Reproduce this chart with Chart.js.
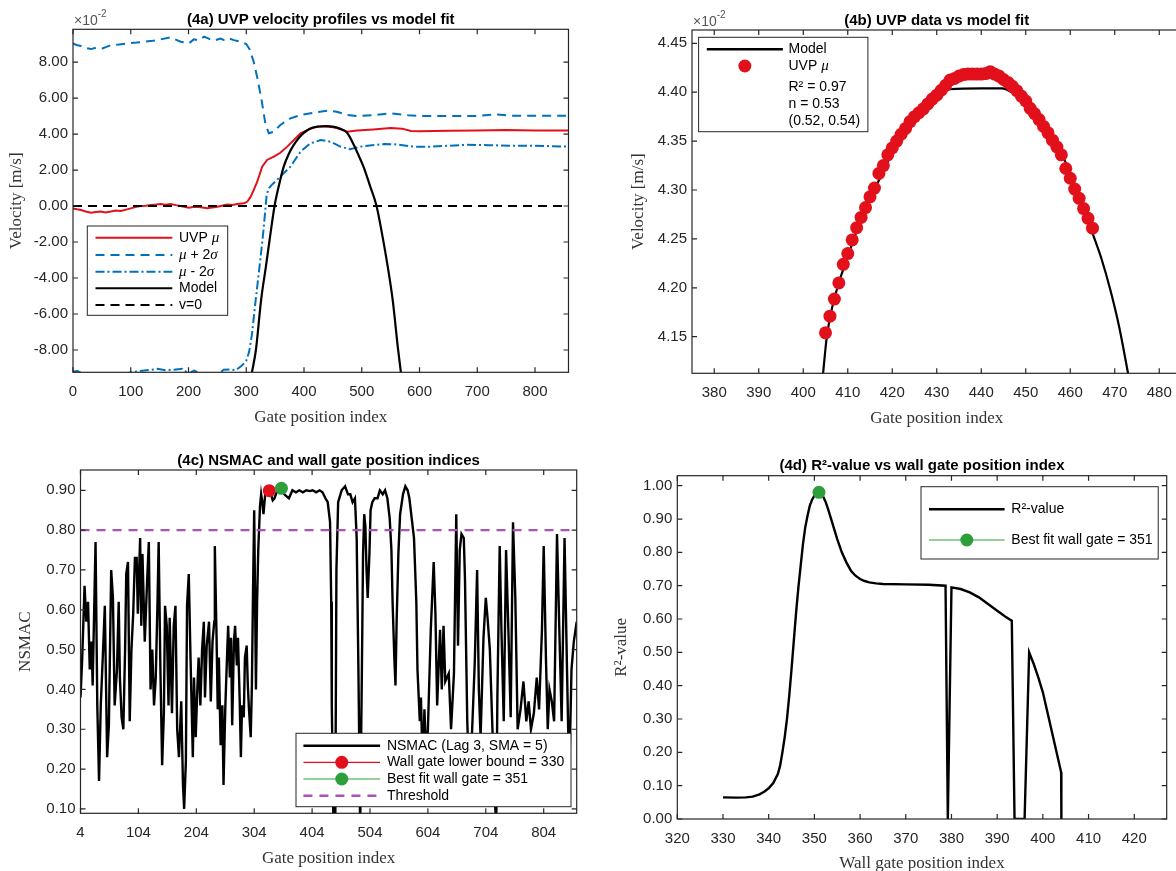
<!DOCTYPE html>
<html>
<head>
<meta charset="utf-8">
<script src="https://cdn.jsdelivr.net/npm/chart.js@4.4.1/dist/chart.umd.min.js"></script>
<style>
  body { margin: 0; background: #fff; width: 1176px; height: 871px; overflow: hidden; position: relative; }
  canvas { position: absolute; }
</style>
</head>
<body>
<canvas id="c4a" width="590" height="435" style="left:0;top:0"></canvas>
<canvas id="c4b" width="610" height="435" style="left:590px;top:0"></canvas>
<canvas id="c4c" width="590" height="440" style="left:0;top:435px"></canvas>
<canvas id="c4d" width="586" height="440" style="left:590px;top:435px"></canvas>
<script>
// ==================data=================

// (4a) velocity profiles, [gate, velocity x 1e-2 m/s]
const uvpMu = [[0,-0.13],[7,-0.18],[13.8,-0.22],[22,-0.3],[31,-0.37],[40,-0.33],[48,-0.31],[56,-0.36],[65.6,-0.31],[74,-0.25],[82.8,-0.28],[92,-0.2],[100,-0.13],[108,-0.06],[117,0],[126,0.02],[135,0.06],[144,0.08],[152,0.11],[160,0.07],[169,0.11],[178,0.05],[186.5,0],[194,-0.06],[201,-0.09],[208,-0.05],[215,-0.04],[224,-0.08],[232.5,-0.13],[241,-0.08],[250,-0.04],[258,0.02],[267,0.09],[276,0.06],[284.5,0.11],[296,0.15],[302,0.25],[307.7,0.52],[313,0.9],[319,1.35],[327.6,2.19],[336,2.56],[347.7,2.74],[359,2.96],[371,3.3],[382.5,3.67],[394,4.04],[408.6,4.26],[423,4.41],[440,4.43],[457,4.33],[474.5,4.13],[491.7,4.19],[520,4.25],[550,4.33],[570,4.3],[585,4.17],[600,4.16],[650,4.18],[700,4.2],[750,4.22],[800,4.2],[858,4.2]];
const muPlus2s = [[0,9.04],[6,8.95],[13.8,8.89],[22,8.78],[31,8.72],[40,8.8],[51,8.76],[58,8.84],[65.6,8.94],[80,8.98],[94.4,9.04],[110,9.08],[123,9.13],[138,9.18],[152,9.26],[169,9.37],[178,9.25],[186.5,9.13],[201,9.04],[209,9.26],[218,9.2],[227,9.41],[235,9.3],[244,9.19],[255.6,9.31],[262,9.22],[270,9.31],[278.6,9.22],[290,9.13],[300,9.0],[306,8.7],[313,8.0],[320,7.0],[327,5.8],[333,4.6],[339,4.04],[347.7,4.13],[359,4.5],[376.5,4.87],[394,5.06],[417,5.19],[440,5.3],[457,5.24],[474.5,5.06],[491.7,5.0],[520,5.05],[549.6,5.15],[580,5.05],[600,5.0],[650,5.0],[700,5.0],[730,5.09],[760,5.02],[800,5.02],[858,5.02]];
const muMinus2s = [[0,-9.2],[8,-9.17],[15,-9.3],[30,-9.4],[50,-9.42],[70,-9.38],[90,-9.3],[110,-9.2],[120,-9.15],[135,-9.1],[146,-9.05],[160,-9.12],[175,-9.1],[189,-9.05],[200,-9.3],[210,-9.15],[225,-9.35],[240,-9.4],[255,-9.25],[261,-9.1],[272,-9.08],[282,-9.12],[293,-8.85],[300,-8.6],[305,-8.1],[310,-7.1],[315,-5.6],[320,-4.2],[325,-2.8],[330,-1.3],[335,0.5],[338,0.95],[345,1.2],[359,1.63],[376.5,2.19],[394,3.02],[411,3.48],[429,3.67],[446,3.57],[463,3.3],[480,3.15],[497.5,3.3],[540,3.45],[560,3.42],[590,3.3],[620,3.3],[680,3.4],[720,3.38],[760,3.35],[800,3.35],[858,3.3]];
const modelA = [[309.5,-9.3],[316.7,-8.0],[325.8,-5.2],[334,-3.37],[342,-1.52],[349,0],[357,1.2],[365,2.2],[373,2.85],[382,3.38],[390,3.74],[398,4.02],[410,4.3],[425,4.42],[437,4.44],[450,4.41],[462,4.3],[474,4.1],[487,3.35],[495,2.78],[503,2.19],[514,1.15],[525.6,0],[535,-1.52],[545,-3.37],[553.5,-5.2],[563,-8.0],[568,-9.3]];
const zeroLine = [[0,0],[858,0]];
const xTicksA = [0,100,200,300,400,500,600,700,800];
const yTicksA = [-8,-6,-4,-2,0,2,4,6,8];

// (4b) zoom on the core, [gate, velocity x 1e-2 m/s]
const uvpB = [[405,4.154],[406,4.171],[407,4.1885],[408,4.205],[409,4.224],[410,4.235],[411,4.249],[412,4.2615],[413,4.272],[414,4.282],[415,4.293],[416,4.302],[417,4.317],[418,4.325],[419,4.336],[420,4.343],[421,4.35],[422,4.357],[423,4.363],[424,4.37],[425,4.375],[426,4.379],[427,4.383],[428,4.388],[429,4.393],[430,4.397],[431,4.402],[432,4.407],[433,4.4125],[434,4.414],[435,4.4165],[436,4.418],[437,4.4185],[438,4.4185],[439,4.4185],[440,4.4185],[441,4.419],[442,4.421],[443,4.4185],[444,4.4165],[445,4.413],[446,4.41],[447,4.406],[448,4.4015],[449,4.396],[450,4.391],[451,4.3835],[452,4.378],[453,4.372],[454,4.365],[455,4.3585],[456,4.351],[457,4.344],[458,4.336],[459,4.322],[460,4.312],[461,4.301],[462,4.2915],[463,4.281],[464,4.271],[465,4.261]];
const modelB = [[404.4,4.11],[405.3,4.15],[406.5,4.18],[408,4.205],[410,4.232],[413,4.27],[416,4.3],[420,4.338],[425,4.372],[427.8,4.389],[430.3,4.397],[433,4.403],[440,4.404],[444.7,4.404],[447.2,4.399],[449.7,4.392],[452,4.38],[455,4.365],[458,4.338],[460,4.317],[462,4.295],[465,4.256],[467,4.23],[469,4.198],[471,4.16],[473.1,4.11]];
const xTicksB = [380,390,400,410,420,430,440,450,460,470,480];
const yTicksB = [4.15,4.2,4.25,4.3,4.35,4.4,4.45];

// (4c) NSMAC, [gate, NSMAC]
const nsmac = [[4,0.38],[7,0.48],[11,0.66],[14,0.57],[17,0.62],[20,0.45],[23,0.52],[25,0.41],[30,0.77],[33,0.36],[36,0.17],[39,0.36],[43,0.5],[46,0.61],[50,0.23],[53,0.31],[57,0.7],[60,0.63],[63,0.36],[67,0.45],[70,0.62],[72,0.43],[75,0.33],[78,0.3],[81,0.5],[83,0.69],[86,0.72],[89,0.32],[92,0.5],[95,0.59],[98,0.73],[101,0.73],[103,0.59],[107,0.78],[109,0.56],[111,0.74],[115,0.52],[119,0.67],[122,0.77],[125,0.4],[128,0.5],[131,0.36],[134,0.43],[137,0.62],[139,0.77],[142,0.45],[145,0.21],[148,0.34],[150,0.61],[153,0.56],[156,0.36],[158,0.58],[162,0.34],[165,0.56],[168,0.61],[171,0.3],[174,0.23],[178,0.37],[181,0.16],[183,0.1],[186,0.22],[188,0.61],[191,0.69],[194,0.48],[198,0.23],[200,0.43],[203,0.28],[206,0.41],[208,0.48],[211,0.36],[214,0.5],[217,0.57],[219,0.38],[222,0.51],[226,0.57],[229,0.37],[232,0.52],[235,0.57],[236,0.76],[239,0.53],[241,0.35],[243,0.48],[246,0.26],[249,0.36],[251,0.16],[254,0.35],[257,0.48],[259,0.56],[262,0.43],[264,0.53],[266,0.31],[269,0.52],[271,0.56],[274,0.46],[276,0.53],[279,0.37],[281,0.23],[283,0.36],[286,0.33],[288,0.48],[291,0.51],[293,0.41],[295,0.35],[298,0.28],[300,0.41],[302,0.65],[304,0.85],[307,0.4],[309,0.62],[311,0.75],[314,0.86],[316,0.89],[318,0.87],[320,0.84],[323,0.89],[327,0.9],[330,0.895],[333,0.89],[336,0.875],[339,0.88],[344,0.9],[349,0.9],[351,0.905],[356,0.89],[360,0.885],[364,0.88],[370,0.9],[376,0.895],[382,0.9],[388,0.895],[394,0.9],[400,0.898],[405,0.9],[411,0.895],[417,0.9],[422,0.895],[427,0.88],[431,0.87],[435,0.82],[437,0.62],[438,0.36],[441,0.05],[444,0.05],[446,0.7],[449,0.87],[455,0.9],[461,0.91],[466,0.89],[470,0.89],[474,0.87],[478,0.88],[481,0.78],[484,0.45],[487,0.05],[490,0.45],[492,0.74],[494,0.84],[496,0.81],[498,0.7],[500,0.63],[503,0.74],[505,0.85],[508,0.87],[512,0.88],[517,0.88],[521,0.9],[526,0.89],[530,0.9],[534,0.88],[538,0.83],[541,0.75],[543,0.62],[546,0.48],[548,0.41],[550,0.57],[553,0.74],[556,0.84],[561,0.89],[565,0.91],[569,0.9],[572,0.88],[576,0.83],[580,0.78],[584,0.62],[586,0.45],[590,0.32],[592,0.38],[595,0.2],[598,0.35],[601,0.23],[604,0.3],[609,0.55],[614,0.72],[617,0.59],[620,0.36],[625,0.55],[628,0.4],[631,0.56],[634,0.42],[640,0.44],[644,0.3],[649,0.44],[653,0.84],[656,0.51],[659,0.75],[662,0.79],[666,0.78],[668,0.68],[672,0.32],[676,0.15],[681,0.32],[685,0.47],[689,0.7],[692,0.4],[695,0.28],[700,0.53],[704,0.63],[707,0.58],[711,0.5],[715,0.32],[719,0.15],[722,0.05],[724,0.38],[728,0.76],[731,0.55],[735,0.32],[739,0.75],[743,0.55],[747,0.33],[751,0.82],[755,0.63],[759,0.3],[764,0.35],[769,0.42],[774,0.32],[778,0.37],[782,0.3],[787,0.34],[792,0.43],[796,0.35],[801,0.55],[804,0.76],[808,0.47],[811,0.3],[814,0.4],[818,0.37],[822,0.32],[827,0.79],[831,0.55],[835,0.32],[840,0.78],[844,0.47],[848,0.17],[852,0.45],[856,0.52],[861,0.57]];
const wallLower = [[330,0.899]];
const bestFitC = [[351,0.905]];
const threshold = [[4,0.8],[861,0.8]];
const xTicksC = [4,104,204,304,404,504,604,704,804];
const yTicksC = [0.1,0.2,0.3,0.4,0.5,0.6,0.7,0.8,0.9];

// (4d) R2 vs wall gate, [gate, R2]
const r2 = [[330,0.065],[333,0.064],[335,0.065],[336.5,0.067],[338,0.074],[339,0.082],[340,0.092],[341,0.108],[342,0.135],[342.5,0.16],[343,0.2],[343.5,0.245],[344,0.3],[344.5,0.37],[345,0.45],[345.5,0.535],[346,0.62],[346.5,0.695],[347,0.76],[347.5,0.825],[348,0.875],[348.5,0.91],[349,0.94],[349.5,0.958],[350,0.97],[350.5,0.977],[351,0.98],[351.5,0.976],[352,0.965],[352.5,0.95],[353,0.93],[354,0.885],[355,0.84],[356,0.8],[357,0.77],[358,0.745],[359,0.73],[360,0.72],[361,0.714],[362,0.71],[363.5,0.707],[365,0.705],[370,0.704],[375,0.703],[378.7,0.7],[379.2,0],[380,0.695],[382,0.69],[384,0.68],[386,0.665],[388,0.645],[390,0.625],[391,0.615],[392,0.605],[393.2,0.595],[393.8,0],[396,0],[397,0.5],[398,0.465],[399,0.425],[400,0.38],[401,0.32],[402,0.26],[403,0.2],[404,0.14],[404.05,0]];
const bestFitD = [[351,0.98]];
const xTicksD = [320,330,340,350,360,370,380,390,400,410,420];
const yTicksD = [0,0.1,0.2,0.3,0.4,0.5,0.6,0.7,0.8,0.9,1.0];

// ==================style=================

const SANS = "'Liberation Sans', Arial, sans-serif";
const SERIF = "'Liberation Serif', 'DejaVu Serif', serif";
const INK = "#262626";
const RED = "#e2101b";
const BLUE = "#0072bd";
const GREEN = "#2e9e3b";
const PURPLE = "#a955b5";
const X_AXIS_H = 55;

const xy = (arr) => arr.map(([x, y]) => ({ x, y }));

function drawRich(ctx, parts, x, y) {
  ctx.textAlign = "left";
  ctx.textBaseline = "middle";
  parts.forEach(([s, st]) => {
    ctx.font = st === "i" ? "italic 15px " + SERIF : "14px " + SANS;
    ctx.fillStyle = "#000";
    ctx.fillText(s, x, y);
    x += ctx.measureText(s).width;
  });
}

// box, inward ticks, title, x10 exponent and legend, matlab style
const frame = {
  id: "frame",
  afterDatasetsDraw(chart, args, o) {
    const { ctx, chartArea: a } = chart;
    const sx = chart.scales.x, sy = chart.scales.y;
    const [ox, oy] = o.origin;
    ctx.save();
    ctx.strokeStyle = INK;
    ctx.lineWidth = 1.2;
    ctx.beginPath();
    sx.ticks.forEach((t) => {
      const p = sx.getPixelForValue(t.value);
      ctx.moveTo(p, a.bottom); ctx.lineTo(p, a.bottom - 5);
      ctx.moveTo(p, a.top); ctx.lineTo(p, a.top + 5);
    });
    sy.ticks.forEach((t) => {
      const p = sy.getPixelForValue(t.value);
      ctx.moveTo(a.left, p); ctx.lineTo(a.left + 5, p);
      ctx.moveTo(a.right, p); ctx.lineTo(a.right - 5, p);
    });
    ctx.stroke();
    ctx.strokeRect(a.left, a.top, a.right - a.left, a.bottom - a.top);

    ctx.fillStyle = "#000";
    ctx.font = "bold 15px " + SANS;
    ctx.textAlign = "center";
    ctx.textBaseline = "middle";
    ctx.fillText(o.title, (a.left + a.right) / 2, a.top - 9.5);

    if (o.exponent) {
      ctx.fillStyle = "#555";
      ctx.textAlign = "left";
      ctx.font = "14px " + SANS;
      ctx.fillText("\u00d710", a.left + 1, a.top - 8);
      const w = ctx.measureText("\u00d710").width;
      ctx.font = "10px " + SANS;
      ctx.fillText(o.exponent, a.left + 1 + w, a.top - 15);
    }

    const L = o.legend;
    if (L) {
      const [bl, bt, br, bb] = L.box;
      ctx.fillStyle = "#fff";
      ctx.fillRect(bl - ox, bt - oy, br - bl, bb - bt);
      ctx.strokeStyle = INK;
      ctx.lineWidth = 1;
      ctx.strokeRect(bl - ox, bt - oy, br - bl, bb - bt);
      L.items.forEach((it, i) => {
        const y = L.rows[i] - oy;
        if (it.line) {
          ctx.strokeStyle = it.line.color;
          ctx.lineWidth = it.line.width;
          ctx.setLineDash(it.line.dash || []);
          ctx.beginPath();
          ctx.moveTo(L.lineX[0] - ox, y);
          ctx.lineTo(L.lineX[1] - ox, y);
          ctx.stroke();
          ctx.setLineDash([]);
        }
        if (it.dot) {
          ctx.fillStyle = it.dot;
          ctx.beginPath();
          ctx.arc((L.lineX[0] + L.lineX[1]) / 2 - ox, y, 6.5, 0, 2 * Math.PI);
          ctx.fill();
        }
        drawRich(ctx, it.text, L.textX - ox, y);
      });
    }
    ctx.restore();
  },
};

function panel(id, o) {
  const cv = document.getElementById(id);
  const [ox, oy] = o.origin;
  const [l, t, r, b] = o.area;
  const padLeft = o.yTitleX - ox - 10.2;
  return new Chart(cv, {
    type: "line",
    data: { datasets: o.datasets },
    options: {
      responsive: false,
      animation: false,
      layout: {
        padding: { left: padLeft, top: t - oy, right: ox + cv.width - r, bottom: oy + cv.height - b - X_AXIS_H },
      },
      plugins: {
        legend: { display: false },
        tooltip: { enabled: false },
        frame: { origin: o.origin, title: o.title, exponent: o.exponent, legend: o.legend },
      },
      scales: {
        x: {
          type: "linear",
          min: o.x[0],
          max: o.x[1],
          afterBuildTicks: (s) => { s.ticks = o.xTicks.map((v) => ({ value: v })); },
          afterFit: (s) => { s.height = X_AXIS_H; },
          grid: { display: false, drawTicks: false },
          border: { display: false },
          ticks: { autoSkip: false, maxRotation: 0, padding: 11, color: INK, font: { family: SANS, size: 15 }, callback: (v) => String(v) },
          title: { display: true, text: o.xTitle, padding: 0, color: "#333", font: { family: SERIF, size: 17 } },
        },
        y: {
          type: "linear",
          min: o.y[0],
          max: o.y[1],
          afterBuildTicks: (s) => { s.ticks = o.yTicks.map((v) => ({ value: v })); },
          afterFit: (s) => { s.width = l - ox - padLeft; },
          grid: { display: false, drawTicks: false },
          border: { display: false },
          ticks: { autoSkip: false, padding: 5, color: INK, font: { family: SANS, size: 15 }, callback: (v) => v.toFixed(2) },
          title: { display: true, text: o.yTitle, padding: 0, color: "#333", font: { family: SERIF, size: 17 } },
        },
      },
    },
    plugins: [frame],
  });
}

const lineDs = (data, color, width, extra) =>
  Object.assign({ data: xy(data), borderColor: color, borderWidth: width, pointRadius: 0, fill: false, tension: 0 }, extra);
const dotDs = (data, color, order) =>
  ({ data: xy(data), showLine: false, pointRadius: 6.5, pointBackgroundColor: color, pointBorderWidth: 0, order });

// ==================chart 4a=================
panel("c4a", {
  origin: [0, 0],
  area: [73, 29.3, 568.5, 372.3],
  yTitleX: 17,
  x: [0, 858], y: [-9.24, 9.82],
  xTicks: xTicksA, yTicks: yTicksA,
  title: "(4a) UVP velocity profiles vs model fit",
  exponent: "-2",
  xTitle: "Gate position index",
  yTitle: "Velocity [m/s]",
  datasets: [
    lineDs(uvpMu, RED, 2, { order: 4 }),
    lineDs(muPlus2s, BLUE, 2, { borderDash: [9, 6], order: 3 }),
    lineDs(muMinus2s, BLUE, 2, { borderDash: [9, 3, 2, 3], order: 2 }),
    lineDs(modelA, "#000", 2.2, { cubicInterpolationMode: "monotone", order: 1 }),
    lineDs(zeroLine, "#000", 2, { borderDash: [9, 6], order: 0 }),
  ],
  legend: {
    box: [87.3, 226, 227.7, 315.3],
    rows: [237.7, 255, 271.7, 288.3, 305],
    lineX: [95.5, 172.3],
    textX: 179,
    items: [
      { line: { color: RED, width: 2 }, text: [["UVP ", ""], ["\u03bc", "i"]] },
      { line: { color: BLUE, width: 2, dash: [9, 6] }, text: [["\u03bc", "i"], [" + 2", ""], ["\u03c3", "i"]] },
      { line: { color: BLUE, width: 2, dash: [9, 3, 2, 3] }, text: [["\u03bc", "i"], [" - 2", ""], ["\u03c3", "i"]] },
      { line: { color: "#000", width: 2 }, text: [["Model", ""]] },
      { line: { color: "#000", width: 2, dash: [9, 6] }, text: [["v=0", ""]] },
    ],
  },
});

// ==================chart 4b=================
panel("c4b", {
  origin: [590, 0],
  area: [692, 30, 1181.5, 373.3],
  yTitleX: 638.7,
  x: [375, 485], y: [4.1126, 4.4636],
  xTicks: xTicksB, yTicks: yTicksB,
  title: "(4b) UVP data vs model fit",
  exponent: "-2",
  xTitle: "Gate position index",
  yTitle: "Velocity [m/s]",
  datasets: [
    lineDs(modelB, "#000", 2.2, { cubicInterpolationMode: "monotone", order: 1 }),
    dotDs(uvpB, RED, 0),
  ],
  legend: {
    box: [698.6, 37.3, 867.9, 131.7],
    rows: [49.3, 66, 87.3, 104, 120.7],
    lineX: [706.8, 782.9],
    textX: 788.5,
    items: [
      { line: { color: "#000", width: 2.5 }, text: [["Model", ""]] },
      { dot: RED, text: [["UVP ", ""], ["\u03bc", "i"]] },
      { text: [["R\u00b2 = 0.97", ""]] },
      { text: [["n = 0.53", ""]] },
      { text: [["(0.52, 0.54)", ""]] },
    ],
  },
});

// ==================chart 4c=================
panel("c4c", {
  origin: [0, 435],
  area: [80.5, 470, 576.7, 813.3],
  yTitleX: 25.5,
  x: [4, 861], y: [0.089, 0.951],
  xTicks: xTicksC, yTicks: yTicksC,
  title: "(4c) NSMAC and wall gate position indices",
  xTitle: "Gate position index",
  yTitle: "NSMAC",
  datasets: [
    lineDs(nsmac, "#000", 2.4, { order: 3 }),
    dotDs(wallLower, RED, 2),
    dotDs(bestFitC, GREEN, 1),
    lineDs(threshold, PURPLE, 2.4, { borderDash: [9, 7], order: 0 }),
  ],
  legend: {
    box: [296, 733.3, 571, 806.7],
    rows: [745.7, 762.3, 779, 795.7],
    lineX: [303.4, 380.1],
    textX: 386.9,
    items: [
      { line: { color: "#000", width: 2.5 }, text: [["NSMAC (Lag 3, SMA = 5)", ""]] },
      { line: { color: RED, width: 1.2 }, dot: RED, text: [["Wall gate lower bound = 330", ""]] },
      { line: { color: GREEN, width: 1.2 }, dot: GREEN, text: [["Best fit wall gate = 351", ""]] },
      { line: { color: PURPLE, width: 2.4, dash: [9, 7] }, text: [["Threshold", ""]] },
    ],
  },
});

// ==================chart 4d=================
panel("c4d", {
  origin: [590, 435],
  area: [677.3, 475.7, 1166.7, 819],
  yTitleX: 621.8,
  x: [320, 427.1], y: [0, 1.03],
  xTicks: xTicksD, yTicks: yTicksD,
  title: "(4d) R\u00b2-value vs wall gate position index",
  xTitle: "Wall gate position index",
  yTitle: "R\u00b2-value",
  datasets: [
    lineDs(r2, "#000", 2.4, { order: 1 }),
    dotDs(bestFitD, GREEN, 0),
  ],
  legend: {
    box: [921, 486.7, 1158.2, 559],
    rows: [509.3, 540],
    lineX: [929, 1004.6],
    textX: 1011.3,
    items: [
      { line: { color: "#000", width: 2.5 }, text: [["R\u00b2-value", ""]] },
      { line: { color: GREEN, width: 1.2 }, dot: GREEN, text: [["Best fit wall gate = 351", ""]] },
    ],
  },
});
</script>
</body>
</html>
